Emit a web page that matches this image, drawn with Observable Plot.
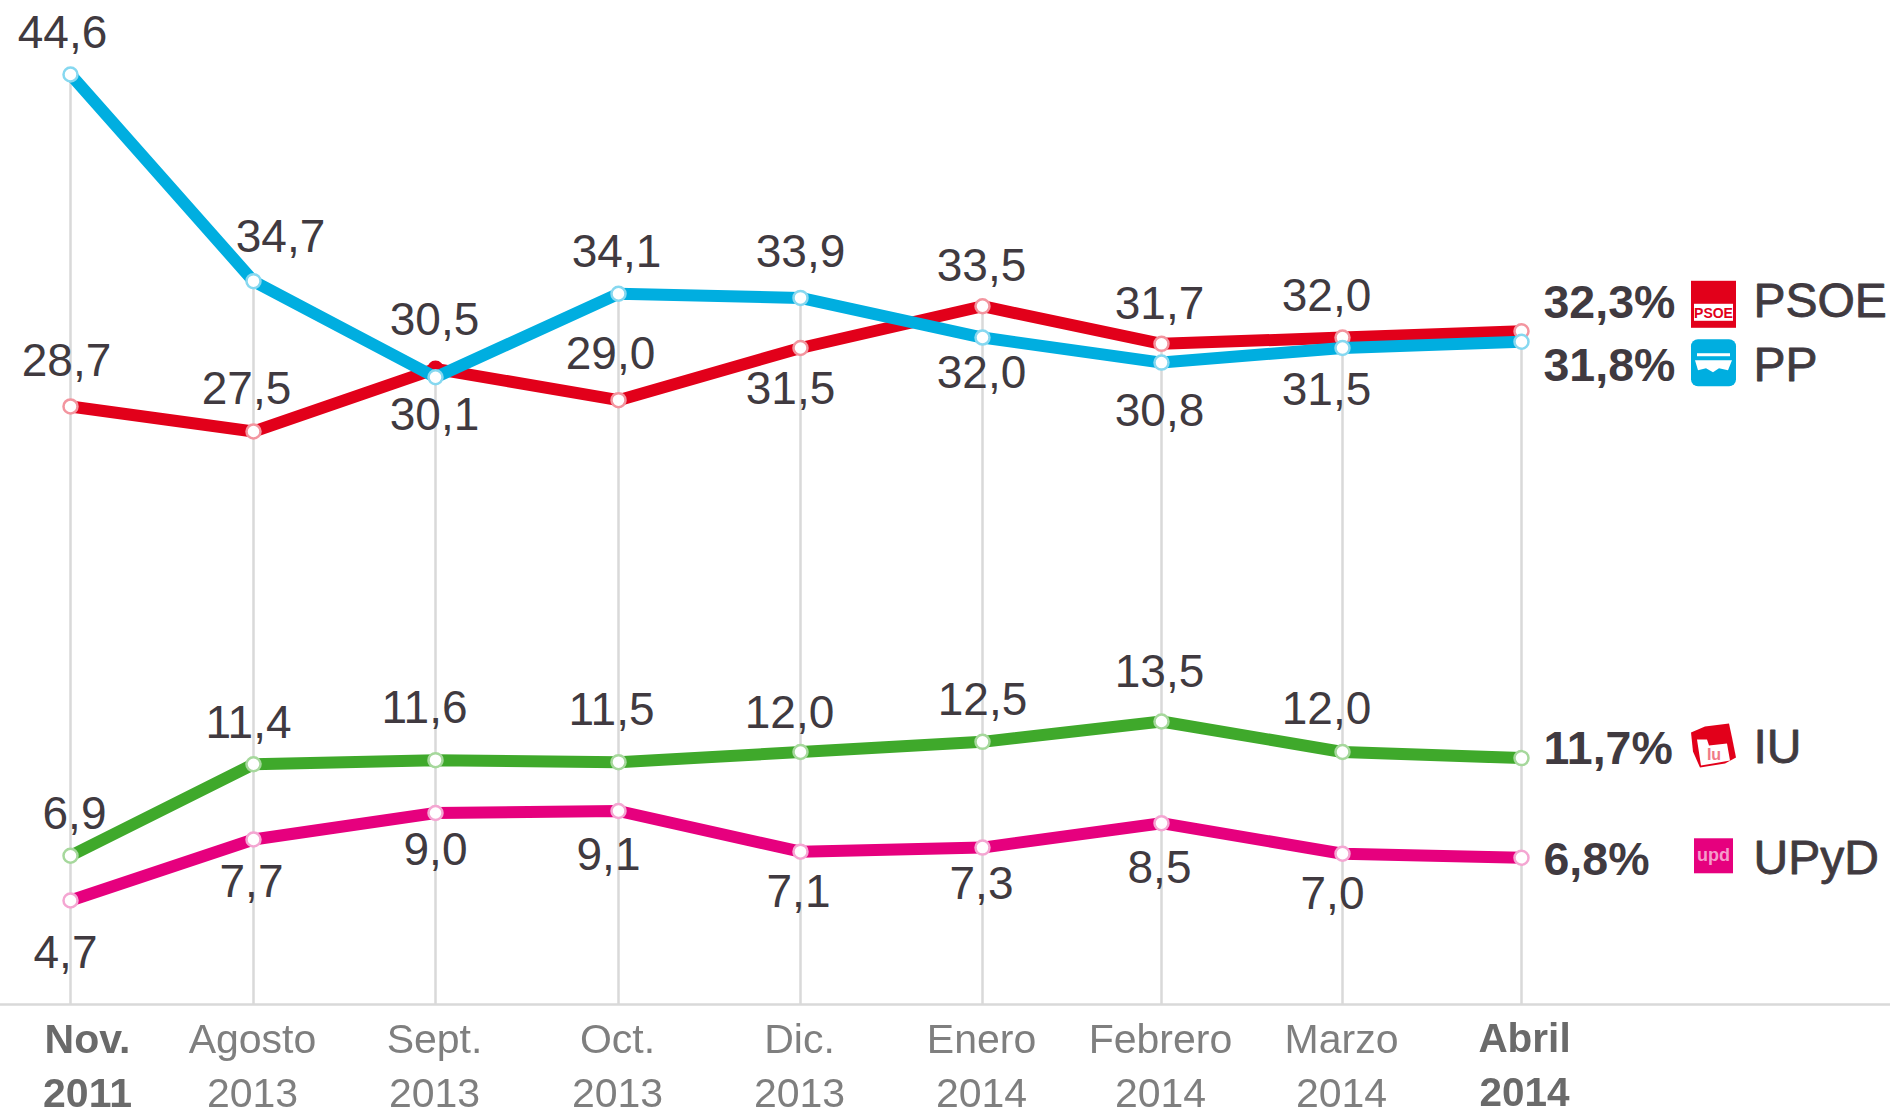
<!DOCTYPE html>
<html lang="es">
<head>
<meta charset="utf-8">
<title>Estimación de voto</title>
<style>
  html, body { margin: 0; padding: 0; background: #fff; }
  svg { display: block; filter: blur(0.7px); }
</style>
<script src="https://cdn.jsdelivr.net/npm/d3@7"></script>
<script src="https://cdn.jsdelivr.net/npm/@observablehq/plot@0.6"></script>
</head>
<body>
<script>
const months = ["Nov.", "Agosto", "Sept.", "Oct.", "Dic.", "Enero", "Febrero", "Marzo", "Abril"];
const years = ["2011", "2013", "2013", "2013", "2013", "2014", "2014", "2014", "2014"];

const ppValues = [44.6, 34.7, 30.1, 34.1, 33.9, 32.0, 30.8, 31.5, 31.8];
const psoeValues = [28.7, 27.5, 30.5, 29.0, 31.5, 33.5, 31.7, 32.0, 32.3];
const iuValues = [6.9, 11.4, 11.6, 11.5, 12.0, 12.5, 13.5, 12.0, 11.7];
const upydValues = [4.7, 7.7, 9.0, 9.1, 7.1, 7.3, 8.5, 7.0, 6.8];

const fmt = v => v.toFixed(1).replace(".", ",");
const ink = "#403a40";
const gridColor = "#d9d9d9";

// Series in drawing order, with the hand-placed label offset of each point.
const series = [
  {name: "UPyD", values: upydValues, color: "#e6007e", ring: "#f4a6d2",
   offsets: [[-5,53],[-2,43],[0,37],[-10,44],[-2,41],[-1,37],[-2,45],[-10,41]], endDy: 2, nameDy: 1},
  {name: "IU", values: iuValues, color: "#3fa92b", ring: "#a6d89c",
   offsets: [[4,-41],[-5,-41],[-11,-52],[-7,-52],[-11,-39],[0,-42],[-2,-49],[-16,-43]], endDy: -9, nameDy: -10},
  {name: "PSOE", values: psoeValues, color: "#e2001a", ring: "#f3959f",
   offsets: [[-4,-45],[-7,-42],[-1,-49],[-8,-46],[-10,41],[-1,-40],[-2,-40],[-16,-41]], endDy: -28, nameDy: -30},
  {name: "PP", values: ppValues, color: "#00aee0", ring: "#86d8f0",
   offsets: [[-8,-41],[27,-44],[-1,38],[-2,-41],[0,-46],[-1,36],[-2,49],[-16,42]], endDy: 24, nameDy: 24}
];

const indices = months.map((_, i) => i);
const tops = indices.map(i => d3.max(series, s => s.values[i]));

const labelMarks = series.flatMap(s => s.values.slice(0, 8).map((v, i) =>
  Plot.text([v], {
    x: () => i, y: d => d, text: d => fmt(d),
    dx: s.offsets[i][0], dy: s.offsets[i][1],
    fontSize: 46, fill: ink, fontFamily: "Liberation Sans"
  })));

const seriesMarks = series.flatMap(s => {
  const rows = s.values.map((v, i) => ({i, v}));
  return [
    Plot.line(rows, {x: "i", y: "v", stroke: s.color, strokeWidth: 12}),
    Plot.dot(rows, {
      x: "i", y: "v", r: 7,
      fill: d => (s.name === "PSOE" && d.i === 2) ? s.color : "#fff",
      stroke: d => (s.name === "PSOE" && d.i === 2) ? s.color : s.ring,
      strokeWidth: 2.5
    })
  ];
});

const endMarks = series.flatMap(s => {
  const last = [s.values[8]];
  return [
    Plot.text(last, {
      x: () => 8, y: d => d, text: d => fmt(d) + "%",
      dx: 22, dy: s.endDy, textAnchor: "start",
      fontSize: 46.5, fontWeight: "bold", fill: ink, fontFamily: "Liberation Sans"
    }),
    Plot.text(last, {
      x: () => 8, y: () => last[0], text: () => s.name,
      dx: 232, dy: s.nameDy, textAnchor: "start",
      fontSize: 48, fill: ink, stroke: ink, strokeWidth: 0.8, fontFamily: "Liberation Sans"
    })
  ];
});

// Small party logos, placed relative to the last point of each series.
function partyIcons(index, {x, y}) {
  const g = d3.create("svg:g").attr("font-family", "Liberation Sans").attr("text-anchor", "middle");
  const x0 = x(8) + 170;
  const w = 45;

  const psoeY = y(32.3) - 50;
  g.append("rect").attr("x", x0).attr("y", psoeY).attr("width", w).attr("height", 47).attr("fill", "#e2001a");
  g.append("rect").attr("x", x0 + 3).attr("y", psoeY + 23).attr("width", w - 6).attr("height", 17).attr("fill", "#fff");
  g.append("text").attr("x", x0 + w / 2).attr("y", psoeY + 37).attr("font-size", 14).attr("font-weight", "bold")
    .attr("fill", "#e2001a").text("PSOE");

  const ppY = y(31.8) - 2;
  g.append("rect").attr("x", x0).attr("y", ppY).attr("width", w).attr("height", 47).attr("rx", 7).attr("fill", "#00aee0");
  g.append("rect").attr("x", x0 + 6).attr("y", ppY + 14).attr("width", w - 12).attr("height", 3).attr("fill", "#fff");
  g.append("path")
    .attr("d", `M${x0 + 4} ${ppY + 21}H${x0 + w - 4}L${x0 + w - 8} ${ppY + 31}L${x0 + 28} ${ppY + 29}L${x0 + 22} ${ppY + 33}L${x0 + 15} ${ppY + 29}L${x0 + 7} ${ppY + 31}Z`)
    .attr("fill", "#fff");

  const iuY = y(11.7) - 34;
  g.append("path")
    .attr("d", `M${x0} ${iuY + 9}L${x0 + 14} ${iuY + 3}L${x0 + 38} ${iuY}L${x0 + 41} ${iuY + 14}L${x0 + 45} ${iuY + 34}L${x0 + 34} ${iuY + 40}L${x0 + 9} ${iuY + 44}L${x0 + 2} ${iuY + 28}Z`)
    .attr("fill", "#e2001a");
  g.append("path")
    .attr("d", `M${x0 + 6} ${iuY + 16}L${x0 + 16} ${iuY + 16}L${x0 + 18} ${iuY + 22}L${x0 + 36} ${iuY + 20}L${x0 + 39} ${iuY + 37}L${x0 + 10} ${iuY + 42}Z`)
    .attr("fill", "#fff");
  g.append("text").attr("x", x0 + 23).attr("y", iuY + 36).attr("font-size", 16).attr("font-weight", "bold")
    .attr("fill", "#f07a88").text("Iu");

  const upydY = y(6.8) - 19;
  g.append("rect").attr("x", x0 + 3).attr("y", upydY).attr("width", w - 6).attr("height", 35).attr("fill", "#e6007e");
  g.append("text").attr("x", x0 + w / 2).attr("y", upydY + 23).attr("font-size", 18).attr("font-weight", "bold")
    .attr("fill", "#f59ccb").text("upd");

  return g.node();
}

const plot = Plot.plot({
  width: 1890,
  height: 1112,
  marginTop: 0,
  marginRight: 0,
  marginLeft: 0,
  marginBottom: 108,
  style: {background: "#fff", fontFamily: "Liberation Sans", overflow: "visible"},
  x: {type: "linear", domain: indices, range: [70, 253, 435, 618, 800, 982, 1161, 1342, 1521]},
  y: {type: "linear", axis: null, domain: [0, 4.7, 13.5, 27.5, 44.6], range: [1004, 900, 721, 431, 74]},
  marks: [
    Plot.ruleX(indices, {x: d => d, y1: 0, y2: i => tops[i], stroke: gridColor, strokeWidth: 2.5}),
    Plot.ruleY([0], {stroke: gridColor, strokeWidth: 2.5}),
    ...seriesMarks,
    ...labelMarks,
    ...endMarks,
    partyIcons,
    Plot.axisX({ticks: [0], tickSize: 0, tickPadding: 10, dx: 17, lineHeight: 1.32,
      tickFormat: i => `${months[i]}\n${years[i]}`, fontSize: 41, fontWeight: "bold", fill: "#6a6a6a", label: null, fontFamily: "Liberation Sans"}),
    Plot.axisX({ticks: indices.slice(1, 8), tickSize: 0, tickPadding: 10, dx: -1, lineHeight: 1.32,
      tickFormat: i => `${months[i]}\n${years[i]}`, fontSize: 41, fill: "#7f7f7f", label: null, fontFamily: "Liberation Sans"}),
    Plot.axisX({ticks: [8], tickSize: 0, tickPadding: 10, dx: 3, lineHeight: 1.32,
      tickFormat: i => `${months[i]}\n${years[i]}`, fontSize: 40.5, fontWeight: "bold", fill: "#6a6a6a", label: null, fontFamily: "Liberation Sans"})
  ]
});
document.body.appendChild(plot);
</script>
</body>
</html>
